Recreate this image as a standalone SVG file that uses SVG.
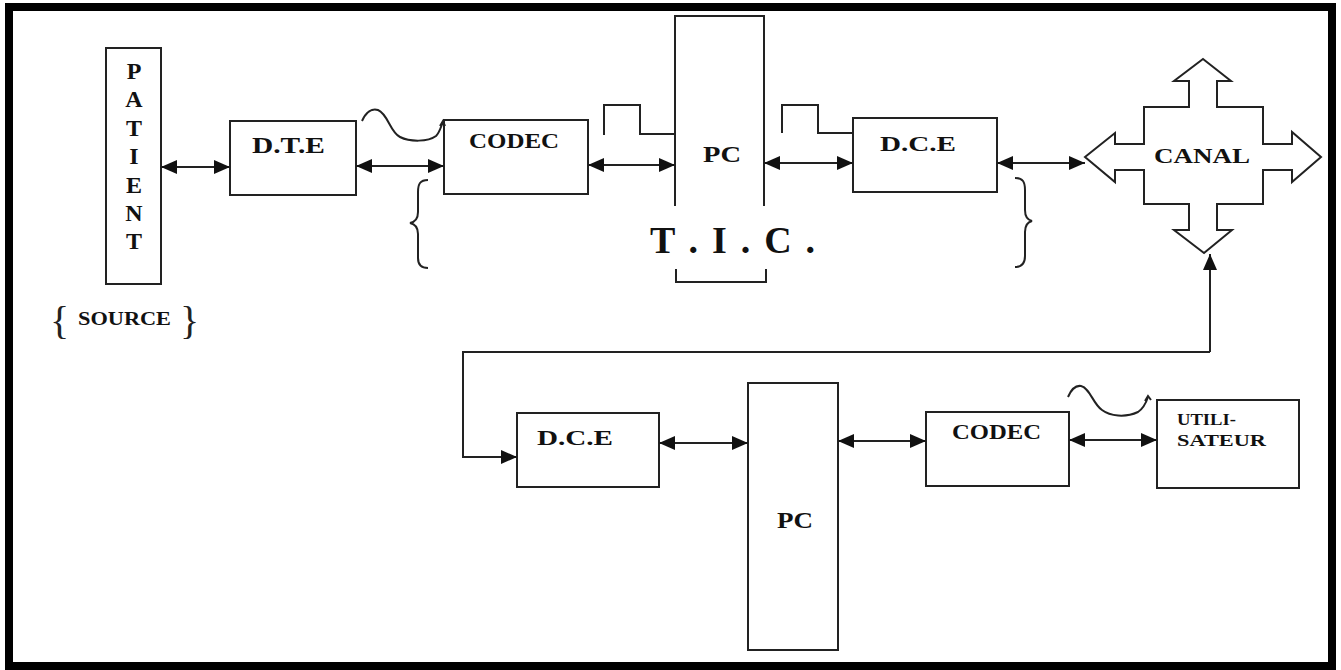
<svg xmlns="http://www.w3.org/2000/svg" width="1341" height="670" viewBox="0 0 1341 670">
<defs>
<marker id="ah" viewBox="0 0 16 14" refX="16" refY="7" markerWidth="16" markerHeight="14" markerUnits="userSpaceOnUse" orient="auto-start-reverse">
<path d="M0,0 L16,7 L0,14 z" fill="#111"/>
</marker>
</defs>
<style>
.box{fill:#fff;stroke:#222;stroke-width:2}
.ln{fill:none;stroke:#222;stroke-width:2}
.ar{fill:none;stroke:#222;stroke-width:2;marker-start:url(#ah);marker-end:url(#ah)}
.t{font-family:"Liberation Serif","Times New Roman",serif;font-weight:bold;fill:#111}
.br{font-family:"Liberation Serif","Times New Roman",serif;fill:#222}
</style>
<rect x="0" y="0" width="1341" height="670" fill="#fff"/>
<rect x="9" y="7" width="1323" height="659" fill="none" stroke="#000" stroke-width="8"/>

<g id="patient">
<rect class="box" x="106" y="48" width="55" height="236"/>
<g class="t" font-size="24" text-anchor="middle">
<text x="134" y="79">P</text>
<text x="134" y="107">A</text>
<text x="134" y="136">T</text>
<text x="134" y="164">I</text>
<text x="134" y="193">E</text>
<text x="134" y="221">N</text>
<text x="134" y="249">T</text>
</g>
</g>
<g id="source">
<text class="br" x="50" y="334" font-size="40">{</text>
<text class="t" x="78" y="325" font-size="19" textLength="93" lengthAdjust="spacingAndGlyphs">SOURCE</text>
<text class="br" x="180" y="334" font-size="40">}</text>
</g>

<g id="dte">
<rect class="box" x="230" y="121" width="126" height="74"/>
<text class="t" x="252" y="153" font-size="24" textLength="73" lengthAdjust="spacingAndGlyphs">D.T.E</text>
</g>

<g id="codec1">
<rect class="box" x="444" y="120" width="144" height="74"/>
<text class="t" x="469" y="148" font-size="21" textLength="90" lengthAdjust="spacingAndGlyphs">CODEC</text>
</g>

<g id="pc1">
<path class="ln" d="M675,206 L675,16 L764,16 L764,206"/>
<text class="t" x="703" y="162" font-size="24" textLength="38" lengthAdjust="spacingAndGlyphs">PC</text>
</g>

<g id="tic">
<text class="t" x="650" y="253" font-size="38" textLength="165" lengthAdjust="spacing">T . I . C .</text>
<path class="ln" d="M676,269 L676,282 L766,282 L766,269"/>
</g>

<g id="dce1">
<rect class="box" x="853" y="118" width="144" height="74"/>
<text class="t" x="880" y="151" font-size="22" textLength="76" lengthAdjust="spacingAndGlyphs">D.C.E</text>
</g>

<g id="canal">
<path class="box" d="M1203,59 L1231,81 L1217,81 L1217,107 L1263,107 L1263,144 L1292,144 L1292,132 L1321,157 L1292,182 L1292,170 L1263,170 L1263,204 L1217,204 L1217,230 L1232,230 L1204,253 L1174,230 L1189,230 L1189,204 L1144,204 L1144,170 L1115,170 L1115,182 L1085,157 L1115,133 L1115,144 L1144,144 L1144,107 L1189,107 L1189,81 L1174,81 Z"/>
<text class="t" x="1154" y="163" font-size="22" textLength="96" lengthAdjust="spacingAndGlyphs">CANAL</text>
</g>

<g id="dce2">
<rect class="box" x="517" y="413" width="142" height="74"/>
<text class="t" x="537" y="445" font-size="22" textLength="76" lengthAdjust="spacingAndGlyphs">D.C.E</text>
</g>

<g id="pc2">
<rect class="box" x="748" y="383" width="90" height="267"/>
<text class="t" x="777" y="528" font-size="24" textLength="36" lengthAdjust="spacingAndGlyphs">PC</text>
</g>

<g id="codec2">
<rect class="box" x="926" y="412" width="143" height="74"/>
<text class="t" x="952" y="439" font-size="21" textLength="89" lengthAdjust="spacingAndGlyphs">CODEC</text>
</g>

<g id="utilisateur">
<rect class="box" x="1157" y="400" width="142" height="88"/>
<text class="t" x="1177" y="425" font-size="17" textLength="59" lengthAdjust="spacingAndGlyphs">UTILI-</text>
<text class="t" x="1177" y="446" font-size="17" textLength="89" lengthAdjust="spacingAndGlyphs">SATEUR</text>
</g>

<g id="decor">
<path class="ln" d="M362,121 C366,112 372,108 378,110 C388,114 390,132 400,137 C410,142 428,142 436,136 C440,132 441,126 443,122"/>
<path class="ln" d="M440,126 L443,121 L445,126"/>
<path class="ln" d="M604,135 L604,105 L640,105 L640,134 L675,134"/>
<path class="ln" d="M782,133 L782,105 L818,105 L818,133 L853,133"/>
<path class="ln" d="M428,180 C420,180 418,184 418,192 L418,212 C418,219 415,222 410,223 C415,224 418,227 418,234 L418,258 C418,265 421,268 428,268"/>
<path class="ln" d="M1015,178 C1023,178 1025,182 1025,190 L1025,210 C1025,217 1028,220 1032,221 C1028,222 1025,225 1025,232 L1025,256 C1025,263 1022,267 1015,267"/>
<path class="ln" d="M1068,397 C1071,390 1075,385 1081,386 C1090,388 1093,404 1102,410 C1110,416 1125,418 1138,412 C1144,408 1146,403 1148,397"/>
<path class="ln" d="M1145,401 L1148,396 L1151,400"/>
</g>

<g id="connectors">
<line class="ar" x1="161" y1="167" x2="230" y2="167"/>
<line class="ar" x1="356" y1="166" x2="444" y2="166"/>
<line class="ar" x1="588" y1="165" x2="675" y2="165"/>
<line class="ar" x1="764" y1="163" x2="853" y2="163"/>
<line class="ar" x1="997" y1="163" x2="1085" y2="163"/>
<path class="ln" d="M1210,352 L1210,254" marker-end="url(#ah)"/>
<path class="ln" d="M1210,352 L463,352 L463,457 L517,457" marker-end="url(#ah)"/>
<line class="ar" x1="659" y1="443" x2="748" y2="443"/>
<line class="ar" x1="838" y1="441" x2="926" y2="441"/>
<line class="ar" x1="1069" y1="440" x2="1157" y2="440"/>
</g>
</svg>
